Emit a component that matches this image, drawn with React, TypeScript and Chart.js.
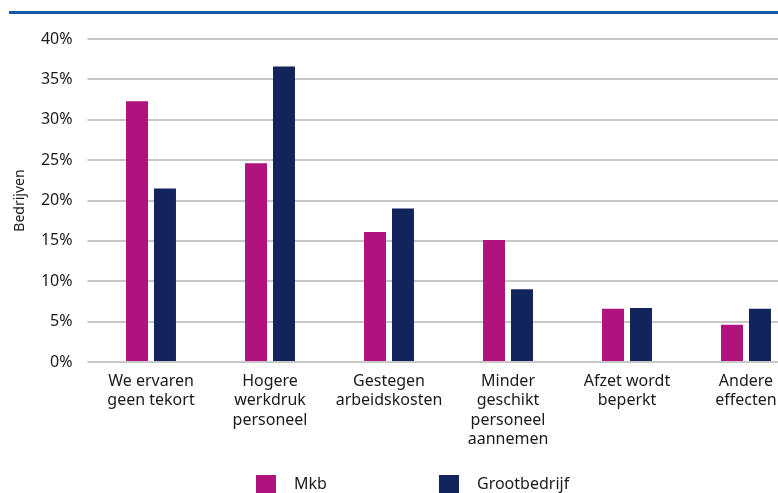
import React, { useEffect, useRef } from "react";
import { Chart, registerables } from "chart.js";

Chart.register(...registerables);

const categories: string[][] = [
  ["We ervaren", "geen tekort"],
  ["Hogere", "werkdruk", "personeel"],
  ["Gestegen", "arbeidskosten"],
  ["Minder", "geschikt", "personeel", "aannemen"],
  ["Afzet wordt", "beperkt"],
  ["Andere", "effecten"],
];
const mkbValues = [32.3, 24.6, 16.1, 15.1, 6.6, 4.6];
const grootValues = [21.5, 36.6, 19.0, 9.0, 6.7, 6.6];
const seriesNames = ["Mkb", "Grootbedrijf"];
const seriesColors = ["#b1137e", "#13235b"];
const yTicks = [0, 5, 10, 15, 20, 25, 30, 35, 40];

const FONT = "'Noto Sans', sans-serif";
const TEXT = "#1a1a1a";

const decorPlugin = {
  id: "decor",
  beforeDraw(chart: any) {
    const ctx = chart.ctx;
    ctx.save();
    ctx.fillStyle = "#ffffff";
    ctx.fillRect(0, 0, chart.width, chart.height);
    ctx.strokeStyle = "#1457a4";
    ctx.lineWidth = 3;
    ctx.beginPath();
    ctx.moveTo(9, 12.5);
    ctx.lineTo(chart.width, 12.5);
    ctx.stroke();
    ctx.restore();
  },
  afterDraw(chart: any) {
    const ctx = chart.ctx;
    ctx.save();
    const startX = 256;
    const spacing = 183;
    const boxW = 20;
    const boxH = 18;
    const boxY = 475;
    ctx.font = `16px ${FONT}`;
    ctx.textBaseline = "middle";
    ctx.textAlign = "left";
    chart.data.datasets.forEach((ds: any, i: number) => {
      const x = startX + i * spacing;
      ctx.fillStyle = ds.backgroundColor;
      ctx.fillRect(x, boxY, boxW, boxH);
      ctx.fillStyle = TEXT;
      ctx.fillText(ds.label, x + boxW + 18, boxY + boxH / 2);
    });
    ctx.restore();
  },
};

export default function App() {
  const ref = useRef<HTMLCanvasElement | null>(null);
  useEffect(() => {
    if (!ref.current) return;
    const chart = new Chart(ref.current, {
      type: "bar",
      data: {
        labels: categories,
        datasets: [
          {
            label: seriesNames[0],
            data: mkbValues,
            backgroundColor: seriesColors[0],
            categoryPercentage: 0.47,
            barPercentage: 0.786,
          },
          {
            label: seriesNames[1],
            data: grootValues,
            backgroundColor: seriesColors[1],
            categoryPercentage: 0.47,
            barPercentage: 0.786,
          },
        ],
      },
      options: {
        responsive: false,
        animation: false,
        layout: { padding: { top: 39, right: 6.5, bottom: 0, left: 0 } },
        plugins: {
          legend: { display: false },
          tooltip: { enabled: false },
        },
        scales: {
          x: {
            grid: { display: false, drawTicks: false },
            border: { display: false },
            ticks: {
              color: TEXT,
              font: { family: FONT, size: 16, lineHeight: 1.2 },
              padding: 10,
              maxRotation: 0,
              autoSkip: false,
            },
            afterFit(scale: any) {
              scale.height = 131;
            },
          },
          y: {
            min: 0,
            max: 40,
            afterBuildTicks(scale: any) {
              scale.ticks = yTicks.map((v) => ({ value: v }));
            },
            grid: { color: "#c8c8c8", lineWidth: 2, tickLength: 4 },
            border: { display: false },
            ticks: {
              color: TEXT,
              font: { family: FONT, size: 16 },
              padding: 15,
              callback: (v: any) => `${v}%`,
            },
            title: {
              display: true,
              text: "Bedrijven",
              color: TEXT,
              font: { family: FONT, size: 14 },
              padding: { top: 12, bottom: 0 },
            },
            afterFit(scale: any) {
              scale.width = 91.5;
            },
          },
        },
      },
      plugins: [decorPlugin],
    });
    return () => chart.destroy();
  }, []);
  return (
    <div
      style={{
        position: "absolute",
        left: 0,
        top: 0,
        width: 778,
        height: 493,
        overflow: "hidden",
        background: "#fff",
      }}
    >
      <canvas ref={ref} width={812} height={493} style={{ display: "block" }} />
    </div>
  );
}
